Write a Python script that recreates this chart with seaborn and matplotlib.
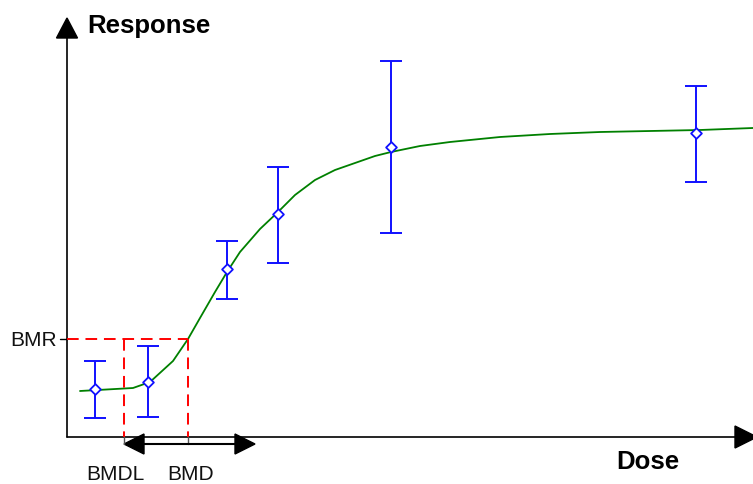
import matplotlib
matplotlib.use("Agg")
import matplotlib.pyplot as plt
import seaborn as sns
import numpy as np
import pandas as pd
from matplotlib.patches import Polygon

sns.set_theme(style="white")
plt.rcParams['font.family'] = ['Liberation Sans', 'DejaVu Sans']

# Observed data (dose, mean response, half error-bar)
dose = [28, 81, 160, 211, 324, 629]
response = [48, 55, 168, 223, 290, 304]
err_low = [29, 35, 30, 49, 86, 49]
err_high = [28, 36, 28, 47, 86, 47]

# Fitted curve
curve_dose = [13, 66, 83, 106, 121, 133, 148, 160, 173, 193, 211, 228, 248, 268,
              288, 308, 324, 353, 383, 433, 483, 533, 583, 633, 686]
curve_resp = [46, 49, 55, 76, 98, 119, 145, 165, 185, 208, 225, 242, 257, 267,
              274, 281, 285, 291, 295, 300, 303, 305, 306, 307, 309]

bmr = 98
bmdl = 57
bmd = 121

fig = plt.figure(figsize=(7.53, 4.84), dpi=100)
ax = fig.add_axes([0, 0, 1, 1])
ax.set_xlim(-67, 686)
ax.set_ylim(-47, 437)
ax.axis('off')

df_curve = pd.DataFrame({"dose": curve_dose, "resp": curve_resp})
sns.lineplot(data=df_curve, x="dose", y="resp", ax=ax, color="#008000", lw=1.3,
             sort=False, estimator=None)

ax.errorbar(dose, response, yerr=[err_low, err_high], fmt='none', ecolor='#1010ff',
            elinewidth=1.4, capsize=8, capthick=1.4, zorder=3)
df_pts = pd.DataFrame({"dose": dose, "resp": response})
sns.scatterplot(data=df_pts, x="dose", y="resp", ax=ax, marker='D', s=30,
                facecolor='white', edgecolor='#1010ff', linewidth=1.3, zorder=4)

# Axes lines with arrow heads
ax.plot([0, 0], [0, 402], color='black', lw=1.2)
ax.add_patch(Polygon([[-10.5, 399], [10.5, 399], [0, 419]], closed=True, color='black'))
ax.plot([0, 670], [0, 0], color='black', lw=1.2)
ax.add_patch(Polygon([[668, 11], [668, -11], [690, 0]], closed=True, color='black'))

# BMR guides
red = '#ff0000'
ax.plot([-7, 0], [bmr, bmr], color='black', lw=1.0)
ax.plot([0, bmd], [bmr, bmr], color=red, lw=1.4, ls=(0, (6, 3.5)))
ax.plot([bmdl, bmdl], [bmr, 0], color=red, lw=1.4, ls=(0, (6, 3.5)))
ax.plot([bmd, bmd], [bmr, 0], color=red, lw=1.4, ls=(0, (6, 3.5)))

# BMDL/BMD double arrow
ax.plot([bmdl, bmdl], [0, -7], color='#555555', lw=1.0)
ax.plot([bmd, bmd], [0, -7], color='#555555', lw=1.0)
ax.plot([bmdl + 10, 178], [-7, -7], color='black', lw=1.5)
ax.add_patch(Polygon([[bmdl, -7], [bmdl + 20, 3], [bmdl + 20, -17]], closed=True, color='black'))
ax.add_patch(Polygon([[188, -7], [168, 3], [168, -17]], closed=True, color='black'))

# Texts
ax.text(-10, 96, "BMR", ha='right', va='center', fontsize=15, color='#111111')
ax.text(48, -38, "BMDL", ha='center', va='center', fontsize=15, color='#111111')
ax.text(124, -38, "BMD", ha='center', va='center', fontsize=15, color='#111111')
ax.text(20, 411, "Response", ha='left', va='center', fontsize=18.5, fontweight='bold', color='black')
ax.text(581, -25, "Dose", ha='center', va='center', fontsize=18.5, fontweight='bold', color='black')

fig.savefig("out.png", dpi=100)
